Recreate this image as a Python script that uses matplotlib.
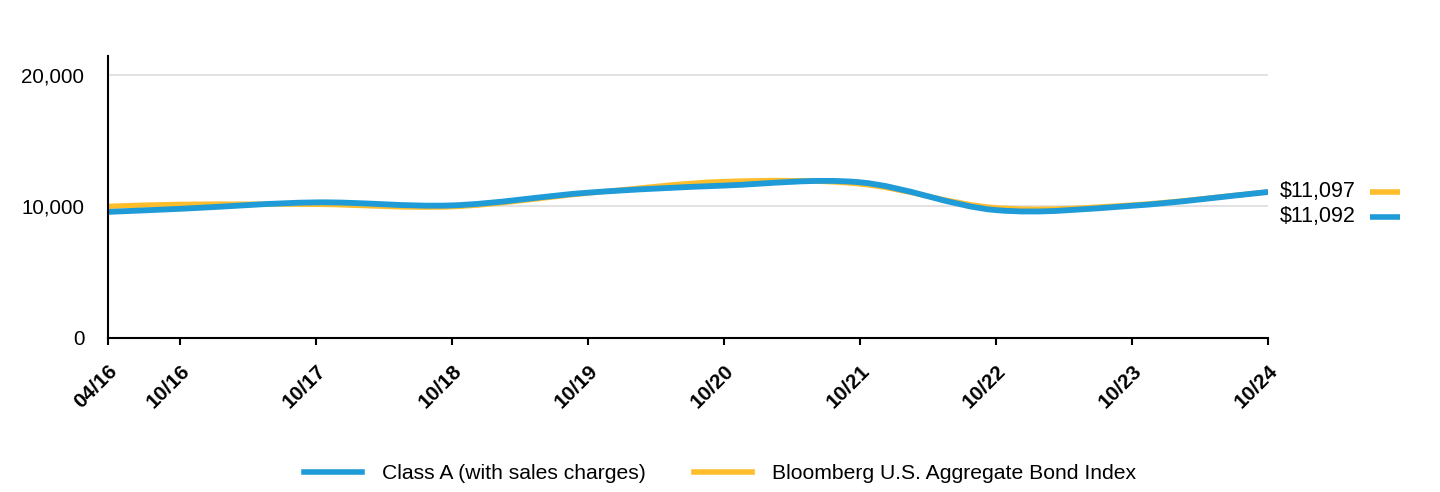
import numpy as np
import matplotlib
matplotlib.use("Agg")
from matplotlib import pyplot as plt
import matplotlib.dates as mdates
from matplotlib.path import Path
from matplotlib.patches import PathPatch
from matplotlib.lines import Line2D
from matplotlib.transforms import blended_transform_factory, ScaledTranslation

plt.rcParams["font.family"] = ["Liberation Sans", "DejaVu Sans"]

# valores
datas = ["2016-04-20", "2016-10-31", "2017-10-31", "2018-10-31", "2019-10-31",
         "2020-10-31", "2021-10-31", "2022-10-31", "2023-10-31", "2024-10-31"]
classe_a = [9575, 9810, 10300, 10070, 11040, 11580, 11830, 9710, 10040, 11092]
bloomberg = [10000, 10150, 10150, 9970, 11000, 11890, 11700, 9890, 10100, 11097]
rotulos_x = ["04/16", "10/16", "10/17", "10/18", "10/19", "10/20", "10/21", "10/22", "10/23", "10/24"]
nomes = ["Class A (with sales charges)", "Bloomberg U.S. Aggregate Bond Index"]

AZUL = "#1F9BD7"
AMARELO = "#FEBD2B"


def curva(ax, x, y, cor, lw, z):
    # spline (catmull-rom) desenhada com curvas de bezier do próprio matplotlib
    x = np.asarray(x, float)
    y = np.asarray(y, float)
    n = len(x)
    m = np.zeros(n)
    m[0] = (y[1] - y[0]) / (x[1] - x[0])
    m[-1] = (y[-1] - y[-2]) / (x[-1] - x[-2])
    for i in range(1, n - 1):
        m[i] = (y[i + 1] - y[i - 1]) / (x[i + 1] - x[i - 1])
    verts = [(x[0], y[0])]
    codes = [Path.MOVETO]
    for i in range(n - 1):
        dx = (x[i + 1] - x[i]) / 3
        verts += [(x[i] + dx, y[i] + m[i] * dx),
                  (x[i + 1] - dx, y[i + 1] - m[i + 1] * dx),
                  (x[i + 1], y[i + 1])]
        codes += [Path.CURVE4] * 3
    ax.add_patch(PathPatch(Path(verts, codes), facecolor="none", edgecolor=cor,
                           lw=lw, capstyle="butt", joinstyle="round", zorder=z))


fig = plt.figure(figsize=(14.4, 4.92), dpi=100)
ax = fig.add_axes([0.075, 0.314, 0.8056, 0.572])

x = mdates.date2num(np.array(datas, dtype="datetime64[D]"))

curva(ax, x, bloomberg, AMARELO, 3.8, 3)
curva(ax, x, classe_a, AZUL, 4.2, 4)

ax.set_xlim(x[0], x[-1])
ax.set_ylim(0, 21450)

ax.set_xticks(x)
ax.set_xticklabels(rotulos_x, rotation=45, ha="right", va="top",
                   rotation_mode="anchor", fontsize=15, fontweight="bold")
ax.tick_params(axis="x", length=5, width=1.5, pad=12)

ax.set_yticks([0, 10000, 20000])
ax.set_yticklabels(["0", "10,000", "20,000"], fontsize=14.8)
ax.tick_params(axis="y", length=0, pad=17)

ax.grid(axis="y", color="#DDDDDD", lw=1.2)
ax.set_axisbelow(True)
for lado in ["top", "right"]:
    ax.spines[lado].set_visible(False)
for lado in ["left", "bottom"]:
    ax.spines[lado].set_linewidth(1.5)
    ax.spines[lado].set_zorder(5)

# rótulos finais à direita
trans = blended_transform_factory(ax.transAxes, ax.transData)
for valor, cor, desloc in [(bloomberg[-1], AMARELO, 0.0), (classe_a[-1], AZUL, -0.25)]:
    t = trans + ScaledTranslation(0, desloc, fig.dpi_scale_trans)
    ax.text(1.0103, valor, "${:,}".format(valor), transform=t, va="center",
            ha="left", fontsize=15.5, clip_on=False)
    ax.plot([1.088, 1.1138], [valor, valor], color=cor, lw=4, transform=t,
            clip_on=False, solid_capstyle="butt")

alcas = [Line2D([], [], color=AZUL, lw=4), Line2D([], [], color=AMARELO, lw=4)]
fig.legend(alcas, nomes, loc="center", bbox_to_anchor=(0.5, 0.037), ncol=2,
           frameon=False, fontsize=15.2, handlelength=2.75, handletextpad=0.95,
           columnspacing=2.3)

fig.savefig("out.png", dpi=100)
